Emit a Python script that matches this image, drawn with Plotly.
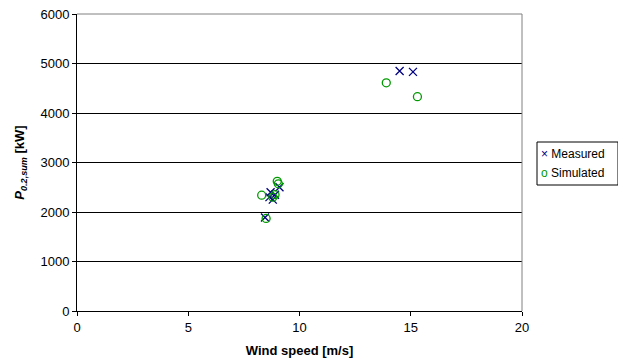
import plotly.graph_objects as go

meas_x = [8.45, 8.65, 8.7, 8.8, 8.9, 9.1, 14.5, 15.1]
meas_y = [1890, 2300, 2400, 2250, 2350, 2500, 4850, 4830]
sim_x = [8.5, 8.3, 8.8, 8.9, 9.0, 9.05, 13.9, 15.3]
sim_y = [1870, 2340, 2300, 2350, 2620, 2570, 4610, 4330]

x_ticks = [0, 5, 10, 15, 20]
y_ticks = [0, 1000, 2000, 3000, 4000, 5000, 6000]
series_names = ["Measured", "Simulated"]
series_colors = ["#000080", "#009900"]

font = "Liberation Sans, Arial, sans-serif"

fig = go.Figure()
fig.add_trace(go.Scatter(x=meas_x, y=meas_y, mode="markers", name=series_names[0],
                         marker=dict(symbol="x-thin", size=8, line=dict(color=series_colors[0], width=1.3),
                                     color=series_colors[0])))
fig.add_trace(go.Scatter(x=sim_x, y=sim_y, mode="markers", name=series_names[1],
                         marker=dict(symbol="circle-open", size=8, color=series_colors[1],
                                     line=dict(width=1.3))))

fig.update_layout(
    width=618, height=356,
    margin=dict(l=69, r=104, t=6, b=53, autoexpand=False),
    paper_bgcolor="white", plot_bgcolor="white",
    font=dict(family=font, size=13, color="black"),
    showlegend=False,
    xaxis=dict(range=[0, 20], tickvals=x_ticks, showgrid=False, zeroline=False,
               showline=True, linecolor="black", linewidth=1, mirror=False,
               ticks="outside", ticklen=4, tickcolor="black", automargin=False,
               ticklabeloverflow="allow",
               title=dict(text="<b>Wind speed [m/s]</b>", standoff=12, font=dict(size=13))),
    yaxis=dict(range=[0, 6000], tickvals=y_ticks, showgrid=True, gridcolor="black", gridwidth=1,
               zeroline=False, showline=True, linecolor="black", linewidth=1,
               ticks="outside", ticklen=4, tickcolor="black", automargin=False,
               ticklabeloverflow="allow",
               title=dict(text="<b><i>P</i><sub><i>0.2,sum</i></sub> [kW]</b>", standoff=12,
                          font=dict(size=13))),
)
# plot area border (right and top)
fig.add_shape(type="line", xref="paper", yref="paper", x0=1, x1=1, y0=0, y1=1,
              line=dict(color="gray", width=1))
fig.add_shape(type="line", xref="paper", yref="paper", x0=0, x1=1, y0=1, y1=1,
              line=dict(color="gray", width=1))

# legend box
fig.add_shape(type="rect", xref="paper", yref="paper",
              x0=(537 - 77) / 445, x1=(618 - 77) / 445,
              y0=(311 - 185) / 297, y1=(311 - 142) / 297,
              line=dict(color="black", width=1), fillcolor="white")
legend_symbols = ["×", "o"]
for i, (nm, col, sym) in enumerate(zip(series_names, series_colors, legend_symbols)):
    yc = 154 + i * 19
    fig.add_annotation(xref="paper", yref="paper", x=(539 - 77) / 445, y=(311 - yc) / 297,
                       xanchor="left", yanchor="middle", showarrow=False,
                       text=f"<span style='color:{col}'>{sym}</span> {nm}",
                       font=dict(size=12, family=font))

fig.write_html("out.html")
